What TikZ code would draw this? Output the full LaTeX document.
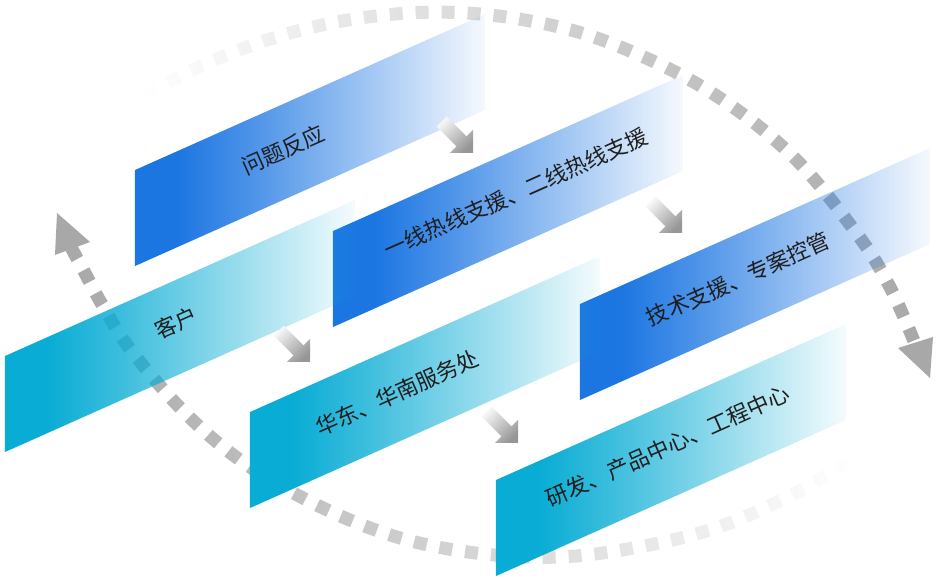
\documentclass[tikz,border=0pt]{standalone}
\usepackage{fontspec}
\newfontfamily\cjk{Noto Sans CJK SC}
\usetikzlibrary{fadings}
\definecolor{boxblue}{RGB}{28,118,226}
\definecolor{boxcyan}{RGB}{8,172,212}
\definecolor{loopgray}{RGB}{168,168,168}
\definecolor{flowlight}{RGB}{246,246,246}
\definecolor{flowdark}{RGB}{150,150,150}
\definecolor{textdark}{RGB}{30,30,30}
\pgfdeclarehorizontalshading{boxfadeshade}{100bp}{color(0bp)=(transparent!0); color(31bp)=(transparent!0);
  color(42bp)=(transparent!22); color(75bp)=(transparent!96); color(100bp)=(transparent!96)}
\tikzfading[name=boxfade, shading=boxfadeshade]
\tikzfading[name=fromleft, left color=transparent!100, right color=transparent!0]
\tikzfading[name=fromright, left color=transparent!0, right color=transparent!100]
% slanted box from its lower left corner
\newcommand{\slantbox}[2]{\fill[#1, path fading=boxfade] #2 -- ++(0,96) -- ++(350,156) -- ++(0,-96) -- cycle;}
% grey step arrow, given by its tip
\newcommand{\stepflow}[1]{\shade[shift={#1}, top color=flowlight, bottom color=flowdark, shading angle=45]
  (0,0) -- (0,23) -- (-6.5,16.5) -- (-26.3,36.3) -- (-36.3,26.3) -- (-16.5,6.5) -- (-23,0) -- cycle;}
\begin{document}
\begin{tikzpicture}[x=1pt,y=1pt,
  loopline/.style={line width=13pt, loopgray, dash pattern=on 13pt off 13pt},
  boxtext/.style={font=\cjk\fontsize{22}{26}\selectfont, text=textdark, inner sep=0pt, rotate=24}]
  \useasboundingbox (0,0) rectangle (938,586);
  % dotted loop
  \coordinate (headR) at (930,208);
  \coordinate (headL) at (57,373);
  \draw[loopline, path fading=fromleft] plot[smooth, tension=0.6] coordinates
    {(145,491) (207,523) (283,551) (360,568) (440,574) (520,567) (603,546) (703,499) (790,433) (857,353) (890,300) (915,244)};
  \draw[loopline, path fading=fromright] plot[smooth, tension=0.6] coordinates
    {(850,124) (793,91) (720,59) (640,39) (560,29) (477,33) (398,49) (322,79) (248,121) (188,171) (133,234) (103,281) (84,316) (72,338)};
  \fill[loopgray] (headR) -- (898,238) -- (933,249) -- cycle;
  \fill[loopgray] (headL) -- (55,331) -- (90,344) -- cycle;
  % boxes
  \slantbox{boxblue}{(135,320)}
  \slantbox{boxblue}{(333,259)}
  \slantbox{boxblue}{(580,186)}
  \slantbox{boxcyan}{(5,134)}
  \slantbox{boxcyan}{(250,78)}
  \slantbox{boxcyan}{(496,10)}
  % step arrows
  \stepflow{(473,433)}
  \stepflow{(682,353)}
  \stepflow{(310,224)}
  \stepflow{(518,143)}
  % labels
  \node[boxtext] (wenti) at (283,436) {问题反应};
  \node[boxtext] (rexian) at (516,393) {一线热线支援、二线热线支援};
  \node[boxtext] (jishu) at (738,307) {技术支援、专案控管};
  \node[boxtext] (kehu) at (176,263) {客户};
  \node[boxtext] (huadong) at (397,193) {华东、华南服务处};
  \node[boxtext] (yanfa) at (668,140) {研发、产品中心、工程中心};
\end{tikzpicture}
\end{document}
